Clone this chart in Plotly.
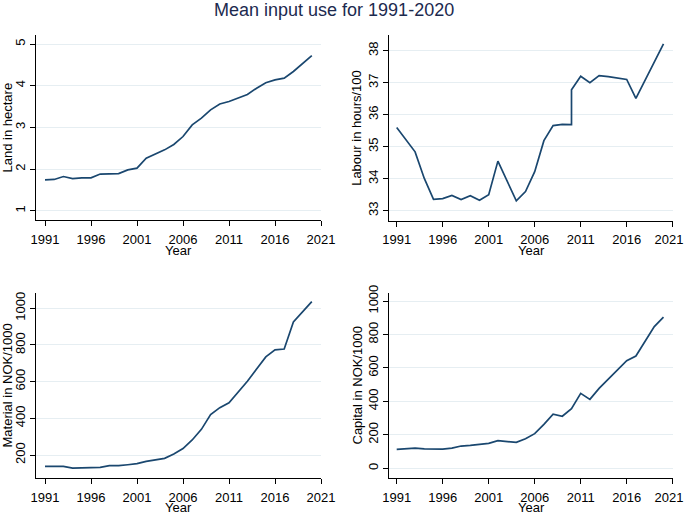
import plotly.graph_objects as go

years = list(range(1991, 2021))
land = [1.74, 1.75, 1.82, 1.77, 1.79, 1.79, 1.88, 1.89, 1.89, 1.98,
        2.02, 2.26, 2.36, 2.46, 2.59, 2.78, 3.06, 3.22, 3.42, 3.56,
        3.62, 3.70, 3.79, 3.94, 4.07, 4.14, 4.18, 4.34, 4.54, 4.72]
labour_years = list(range(1991, 2011)) + [2010] + list(range(2011, 2021))
labour = [35.60, 35.22, 34.84, 34.01, 33.36, 33.38, 33.48, 33.35, 33.47, 33.33,
          33.50, 34.55, 33.94, 33.31, 33.60, 34.22, 35.19, 35.66, 35.70, 35.69,
          36.78,
          37.20, 37.00, 37.22, 37.19, 37.15, 37.10, 36.51, 37.08, 37.64, 38.21]
material = [138, 136, 138, 129, 131, 129, 133, 142, 142, 147,
            153, 165, 173, 182, 205, 235, 282, 340, 420, 458,
            485, 544, 602, 669, 735, 773, 778, 925, 978, 1036]
capital = [113, 117, 121, 116, 116, 114, 121, 133, 137, 143,
           149, 165, 159, 155, 177, 207, 263, 323, 311, 357,
           448, 412, 478, 534, 588, 643, 671, 763, 847, 904]

x_ticks = [1991, 1996, 2001, 2006, 2011, 2016, 2021]
x_ticklabels = ["1991", "1996", "2001", "2006", "2011", "2016", "2021"]
land_ticks = [1, 2, 3, 4, 5]
labour_ticks = [33, 34, 35, 36, 37, 38]
material_ticks = [200, 400, 600, 800, 1000]
capital_ticks = [0, 200, 400, 600, 800, 1000]

title = "Mean input use for 1991-2020"
ytitles = ["Land in hectare", "Labour in hours/100", "Material in NOK/1000", "Capital in NOK/1000"]

W, H = 685, 514
LINE = "#1a476f"
GRID = "#e6eef2"
FONT = "Liberation Sans, Arial, sans-serif"

def px_x(a, b):
    return [a / W, b / W]

def px_y(top, bottom):
    return [1 - bottom / H, 1 - top / H]

panels = [
    dict(x=years, y=land, xd=px_x(36, 321), yd=px_y(35, 220), yr=[0.777, 5.216], yt=land_ticks),
    dict(x=labour_years, y=labour, xd=px_x(389.3, 672.7), yd=px_y(35, 220.7), yr=[32.69, 38.49], yt=labour_ticks),
    dict(x=years, y=material, xd=px_x(36, 321), yd=px_y(292.7, 478.3), yr=[73, 1085], yt=material_ticks),
    dict(x=years, y=capital, xd=px_x(389.3, 672.7), yd=px_y(292.7, 478.3), yr=[-60, 1050], yt=capital_ticks),
]

fig = go.Figure()
layout = dict(
    width=W, height=H,
    margin=dict(l=0, r=0, t=0, b=0, autoexpand=False),
    paper_bgcolor="white", plot_bgcolor="white",
    showlegend=False,
    font=dict(family=FONT, size=13, color="black"),
)
annotations = []
for i, p in enumerate(panels):
    n = "" if i == 0 else str(i + 1)
    fig.add_trace(go.Scatter(x=p["x"], y=p["y"], mode="lines",
                             line=dict(color=LINE, width=1.7),
                             xaxis="x" + n, yaxis="y" + n, hoverinfo="skip"))
    xrange_lo = 1991 - (45 - 36) / 9.2 if i % 2 == 0 else 1991 - (396.7 - 389.3) / 9.2
    labels = list(x_ticklabels)
    if i % 2 == 1:
        labels[-1] = labels[-1] + "\u00a0\u00a0"
    layout["xaxis" + n] = dict(
        domain=p["xd"], anchor="y" + n, range=[xrange_lo, 2021],
        tickvals=x_ticks, ticktext=labels, ticks="outside", ticklen=5, tickcolor="black",
        showline=True, linecolor="black", linewidth=1, showgrid=False,
        zeroline=False, tickfont=dict(size=13), automargin=False,
        ticklabelstandoff=2, ticklabeloverflow="allow",
    )
    layout["yaxis" + n] = dict(
        domain=p["yd"], anchor="x" + n, range=p["yr"],
        tickvals=p["yt"], ticks="outside", ticklen=5, tickcolor="black",
        showline=True, linecolor="black", linewidth=1,
        showgrid=True, gridcolor=GRID, gridwidth=1,
        zeroline=False, tickangle=-90, tickfont=dict(size=13), automargin=False,
        ticklabeloverflow="allow",
    )
    xmid = (p["xd"][0] + p["xd"][1]) / 2
    ymid = (p["yd"][0] + p["yd"][1]) / 2
    ytitle_x = 7 if i % 2 == 0 else 357
    year_y = 250 if i < 2 else 507
    annotations.append(dict(text=ytitles[i], x=ytitle_x / W, y=ymid, xref="paper", yref="paper",
                            textangle=-90, showarrow=False, xanchor="center", yanchor="middle",
                            font=dict(size=13)))
    annotations.append(dict(text="Year", x=xmid, y=1 - year_y / H, xref="paper", yref="paper",
                            showarrow=False, xanchor="center", yanchor="middle", font=dict(size=13)))

annotations.append(dict(text=title, x=333.5 / W, y=1 - 10 / H, xref="paper", yref="paper",
                        showarrow=False, xanchor="center", yanchor="middle",
                        font=dict(size=18, color="#1c2a4f")))
layout["annotations"] = annotations
fig.update_layout(**layout)
fig.write_html("out.html", config={"displayModeBar": False},
               post_script="document.body.style.margin='0';document.body.style.overflow='hidden';")
